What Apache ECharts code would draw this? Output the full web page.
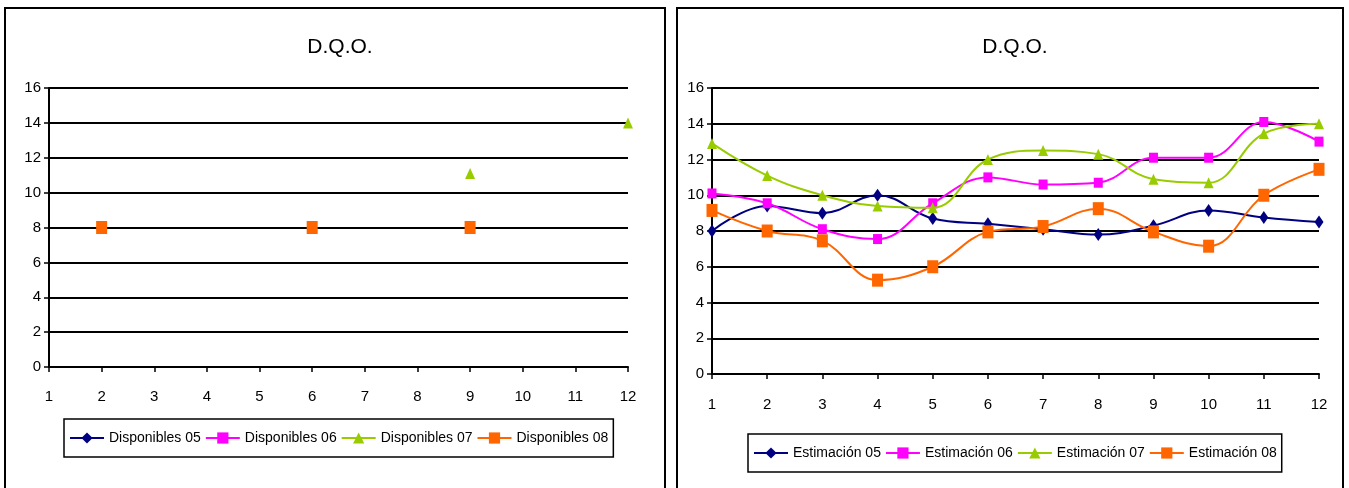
<!DOCTYPE html>
<html>
<head>
<meta charset="utf-8">
<script src="https://cdn.jsdelivr.net/npm/echarts@6/dist/echarts.min.js"></script>
<style>
  html, body { margin: 0; padding: 0; background: #ffffff; }
  #chart { width: 1349px; height: 488px; }
</style>
</head>
<body>
<div id="chart"></div>
<script>
// Months 1..12 on the horizontal axis
const months = ['1', '2', '3', '4', '5', '6', '7', '8', '9', '10', '11', '12'];

// Measured D.Q.O. values (left panel); gaps are months without a value
const disponibles05 = [null, null, null, null, null, null, null, null, null, null, null, null];
const disponibles06 = [null, null, null, null, null, null, null, null, null, null, null, null];
const disponibles07 = [null, null, null, null, null, null, null, null, 11.1, null, null, 14];
const disponibles08 = [null, 8, null, null, null, 8, null, null, 8, null, null, null];

// Estimated D.Q.O. values (right panel)
const estimacion05 = [8.0, 9.4, 9.0, 10.0, 8.7, 8.4, 8.1, 7.8, 8.3, 9.15, 8.75, 8.5];
const estimacion06 = [10.1, 9.55, 8.1, 7.55, 9.55, 11.0, 10.6, 10.7, 12.1, 12.1, 14.1, 13.0];
const estimacion07 = [12.9, 11.1, 10.0, 9.4, 9.3, 12.0, 12.5, 12.3, 10.9, 10.7, 13.45, 14.0];
const estimacion08 = [9.15, 8.0, 7.45, 5.25, 6.0, 7.95, 8.25, 9.25, 7.95, 7.15, 10.0, 11.45];

const leftNames = ['Disponibles 05', 'Disponibles 06', 'Disponibles 07', 'Disponibles 08'];
const rightNames = ['Estimación 05', 'Estimación 06', 'Estimación 07', 'Estimación 08'];

const FONT = "'Liberation Sans', Arial, sans-serif";
const COLORS = ['#000080', '#FF00FF', '#99CC00', '#FF6600'];
const SYMBOLS = ['diamond', 'rect', 'triangle', 'rect'];
const SIZES = [[9, 13], [9, 10], [10, 11], [11, 13]];

function xAxisFor(gridIndex, margin) {
  return {
    type: 'category', gridIndex, data: months, boundaryGap: false,
    axisLine: { show: true, lineStyle: { color: '#000', width: 2 } },
    axisTick: { show: true, length: 5, lineStyle: { color: '#000', width: 1.5 } },
    axisLabel: { color: '#000', fontSize: 15, fontFamily: FONT, margin },
    splitLine: { show: false }
  };
}

function yAxisFor(gridIndex) {
  return {
    type: 'value', gridIndex, min: 0, max: 16, interval: 2,
    axisLine: { show: true, lineStyle: { color: '#000', width: 2 } },
    axisTick: { show: true, length: 5, lineStyle: { color: '#000', width: 1.5 } },
    axisLabel: { color: '#000', fontSize: 15, fontFamily: FONT, margin: 8 },
    splitLine: { show: true, lineStyle: { color: '#000', width: 2 } }
  };
}

function seriesFor(names, datasets, axisIndex, smooth) {
  return names.map((name, i) => ({
    name, type: 'line', xAxisIndex: axisIndex, yAxisIndex: axisIndex,
    data: datasets[i], smooth, connectNulls: false,
    symbol: SYMBOLS[i], symbolSize: SIZES[i], showAllSymbol: true,
    itemStyle: { color: COLORS[i] },
    lineStyle: { color: COLORS[i], width: 2 },
    emphasis: { disabled: true },
    z: 3 + i
  }));
}

function legendFor(names, left, top) {
  return {
    data: names, left, top, orient: 'horizontal', width: 600,
    itemWidth: 34, itemHeight: 14, itemGap: 4,
    padding: [12, 5, 12, 5],
    borderColor: '#000', borderWidth: 1.5, backgroundColor: '#fff',
    textStyle: { color: '#000', fontSize: 14, fontFamily: FONT },
    selectedMode: false
  };
}

const chart = echarts.init(document.getElementById('chart'), null, { renderer: 'canvas' });

chart.setOption({
  backgroundColor: '#ffffff',
  animation: false,
  title: [
    { text: 'D.Q.O.', left: 335, top: 32, textAlign: 'center',
      textStyle: { color: '#000', fontSize: 21, fontWeight: 'normal', fontFamily: FONT } },
    { text: 'D.Q.O.', left: 1010, top: 32, textAlign: 'center',
      textStyle: { color: '#000', fontSize: 21, fontWeight: 'normal', fontFamily: FONT } }
  ],
  graphic: [
    { type: 'rect', shape: { x: 5, y: 8, width: 660, height: 500 },
      style: { fill: 'none', stroke: '#000', lineWidth: 2 }, z: -1, silent: true },
    { type: 'rect', shape: { x: 677, y: 8, width: 666, height: 500 },
      style: { fill: 'none', stroke: '#000', lineWidth: 2 }, z: -1, silent: true }
  ],
  grid: [
    { left: 49, right: 721, top: 88, bottom: 121, containLabel: false },
    { left: 712, right: 30, top: 88, bottom: 114, containLabel: false }
  ],
  xAxis: [xAxisFor(0, 22), xAxisFor(1, 23)],
  yAxis: [yAxisFor(0), yAxisFor(1)],
  legend: [legendFor(leftNames, 64, 419), legendFor(rightNames, 748, 434)],
  series: [
    ...seriesFor(leftNames, [disponibles05, disponibles06, disponibles07, disponibles08], 0, false),
    ...seriesFor(rightNames, [estimacion05, estimacion06, estimacion07, estimacion08], 1, 0.4)
  ]
});
</script>
</body>
</html>
